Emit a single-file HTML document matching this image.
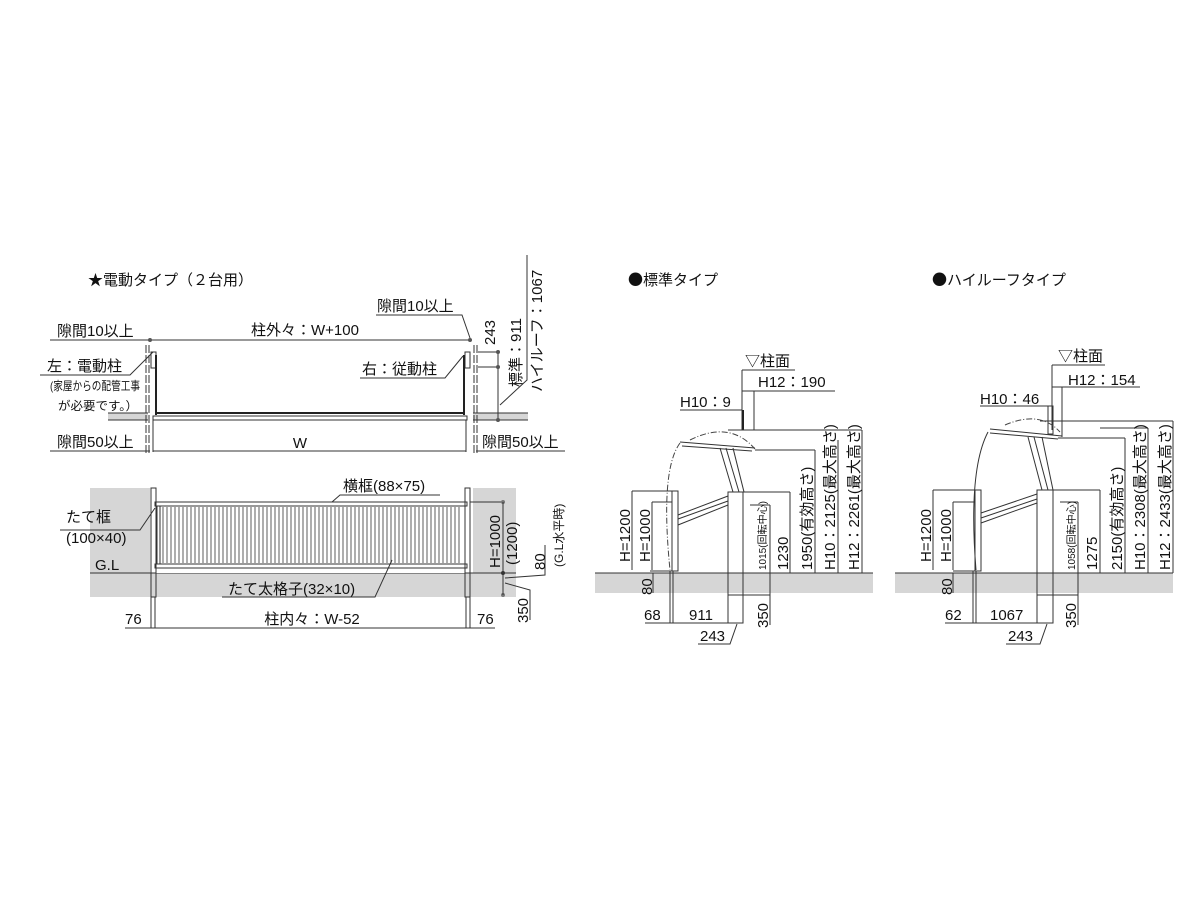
<!DOCTYPE html>
<html><head><meta charset="utf-8"><style>
body{margin:0;background:#fff}
svg{display:block}
text{font-family:"Liberation Sans","Noto Sans CJK JP",sans-serif;fill:#111;font-size:15px}
.s{font-size:12px}
.xs{font-size:10px}
.l{stroke:#333;stroke-width:1;fill:none}
.t{stroke:#222;stroke-width:2;fill:none}
.d{stroke:#444;stroke-width:1;fill:none;stroke-dasharray:6,2,1,2}
.g{fill:#d6d6d6}
.b{font-family:"Noto Sans CJK JP",sans-serif}
</style></head><body>
<svg width="1200" height="900" viewBox="0 0 1200 900">
<rect width="1200" height="900" fill="#fff"/>
<!-- ===== LEFT TOP ===== -->
<text x="88" y="285" font-size="15">★電動タイプ（２台用）</text>
<rect class="g" x="108" y="413" width="40" height="7"/>
<rect class="g" x="473" y="413" width="55" height="7"/>
<line class="l" x1="108" y1="413" x2="148" y2="413"/><line class="l" x1="108" y1="420" x2="148" y2="420"/>
<line class="l" x1="473" y1="413" x2="528" y2="413"/><line class="l" x1="473" y1="420" x2="528" y2="420"/>
<text x="57" y="336">隙間10以上</text><line class="l" x1="50" y1="340" x2="150" y2="340"/>
<line class="l" x1="150" y1="340" x2="472" y2="340"/>
<text x="305" y="335" text-anchor="middle">柱外々：W+100</text>
<text x="377" y="311">隙間10以上</text><polyline class="l" points="376,315 462,315 470,338"/>
<circle cx="150" cy="340" r="2" fill="#555"/><circle cx="470" cy="340" r="2" fill="#555"/>
<line class="l" x1="146" y1="345" x2="146" y2="455" stroke-dasharray="8,2"/><line class="l" x1="149" y1="345" x2="149" y2="455" stroke-dasharray="8,2"/>
<line class="l" x1="474" y1="345" x2="474" y2="455" stroke-dasharray="8,2"/><line class="l" x1="477" y1="345" x2="477" y2="455" stroke-dasharray="8,2"/>
<rect class="l" x="151" y="352" width="5" height="16"/><rect class="l" x="465" y="352" width="5" height="16"/>
<line class="t" x1="156" y1="355" x2="156" y2="415"/><line class="t" x1="464" y1="355" x2="464" y2="415"/>
<line class="t" x1="156" y1="413" x2="464" y2="413"/>
<rect class="l" x="153" y="416" width="314" height="4"/>
<line class="l" x1="153" y1="420" x2="153" y2="452"/><line class="l" x1="466" y1="420" x2="466" y2="452"/>
<line class="l" x1="153" y1="451" x2="466" y2="451"/>
<text x="300" y="448" text-anchor="middle">W</text>
<text x="57" y="447">隙間50以上</text><line class="l" x1="50" y1="451" x2="150" y2="451"/>
<text x="482" y="447">隙間50以上</text><line class="l" x1="476" y1="451" x2="565" y2="451"/>
<text x="47" y="371">左：電動柱</text><polyline class="l" points="40,375 130,375 153,352"/>
<text x="50" y="390" class="s" textLength="90" lengthAdjust="spacingAndGlyphs">(家屋からの配管工事</text>
<text x="58" y="410" class="s" textLength="80" lengthAdjust="spacingAndGlyphs">が必要です。）</text>
<text x="362" y="374">右：従動柱</text><polyline class="l" points="360,378 445,378 463,356"/>
<line class="l" x1="478" y1="352" x2="498" y2="352"/><line class="l" x1="478" y1="367" x2="498" y2="367"/>
<line class="l" x1="498" y1="352" x2="498" y2="420"/>
<circle cx="498" cy="352" r="2" fill="#555"/><circle cx="498" cy="367" r="2" fill="#555"/><circle cx="498" cy="420" r="2" fill="#555"/>
<text transform="translate(495,345) rotate(-90)">243</text>
<polyline class="l" points="500,405 527,380 527,255"/>
<text transform="translate(521,387) rotate(-90)">標準：911</text>
<text transform="translate(542,392) rotate(-90)">ハイルーフ：1067</text>
<!-- ===== LEFT BOTTOM ===== -->
<rect class="g" x="90" y="488" width="60" height="109"/>
<rect class="g" x="473" y="488" width="43" height="109"/>
<rect class="g" x="90" y="573" width="426" height="24"/>
<line class="l" x1="90" y1="573" x2="516" y2="573"/>
<rect x="156" y="500" width="309" height="73" fill="#fff"/>
<rect class="l" x="151" y="488" width="5" height="109"/><rect class="l" x="465" y="488" width="5" height="109"/>
<line class="l" x1="151" y1="597" x2="151" y2="628"/><line class="l" x1="155" y1="597" x2="155" y2="628"/>
<line class="l" x1="466" y1="597" x2="466" y2="628"/><line class="l" x1="470" y1="597" x2="470" y2="628"/>
<rect class="l" x="155" y="502" width="312" height="4"/>
<rect class="l" x="155" y="564" width="312" height="4"/>
<rect class="l" x="157" y="506" width="3" height="58"/>
<g stroke="#777" stroke-width="1.2">
<path d="M163 507V563M167 507V563M171 507V563M175 507V563M179 507V563M183 507V563M187 507V563M191 507V563M195 507V563M199 507V563M203 507V563M207 507V563M211 507V563M215 507V563M219 507V563M223 507V563M227 507V563M231 507V563M235 507V563M239 507V563M243 507V563M247 507V563M251 507V563M255 507V563M259 507V563M263 507V563M267 507V563M271 507V563M275 507V563M279 507V563M283 507V563M287 507V563M291 507V563M295 507V563M299 507V563M303 507V563M307 507V563M311 507V563M315 507V563M319 507V563M323 507V563M327 507V563M331 507V563M335 507V563M339 507V563M343 507V563M347 507V563M351 507V563M355 507V563M359 507V563M363 507V563M367 507V563M371 507V563M375 507V563M379 507V563M383 507V563M387 507V563M391 507V563M395 507V563M399 507V563M403 507V563M407 507V563M411 507V563M415 507V563M419 507V563M423 507V563M427 507V563M431 507V563M435 507V563M439 507V563M443 507V563M447 507V563M451 507V563M455 507V563M459 507V563"/>
</g>
<text x="343" y="491">横框(88×75)</text><polyline class="l" points="440,495 340,495 332,502"/>
<text x="66" y="522">たて框</text><text x="66" y="543">(100×40)</text>
<polyline class="l" points="60,530 140,530 155,508"/>
<text x="95" y="570">G.L</text>
<text x="228" y="594">たて太格子(32×10)</text><polyline class="l" points="222,597 375,597 392,560"/>
<line class="l" x1="470" y1="502" x2="505" y2="502"/><line class="l" x1="470" y1="573" x2="505" y2="573"/>
<circle cx="503" cy="502" r="2" fill="#777"/><circle cx="503" cy="573" r="2" fill="#333"/><circle cx="503" cy="595" r="2" fill="#777"/>
<line class="l" x1="503" y1="502" x2="503" y2="595"/>
<text transform="translate(500,568) rotate(-90)">H=1000</text>
<text transform="translate(517,565) rotate(-90)">(1200)</text>
<polyline class="l" points="505,578 545,575 545,545"/>
<text transform="translate(545,570) rotate(-90)">80</text>
<text transform="translate(563,567) rotate(-90)" class="s">(G.L水平時)</text>
<polyline class="l" points="505,583 530,590 530,620"/>
<text transform="translate(528,623) rotate(-90)">350</text>
<line class="l" x1="125" y1="628" x2="495" y2="628"/>
<text x="125" y="624">76</text>
<text x="312" y="624" text-anchor="middle">柱内々：W-52</text>
<text x="477" y="624">76</text>
<!-- ===== MIDDLE: 標準 ===== -->
<text x="628" y="285" font-size="15"><tspan class="b">●</tspan>標準タイプ</text>
<rect class="g" x="595" y="573" width="278" height="20"/>
<line class="l" x1="595" y1="573" x2="873" y2="573"/>
<text x="745" y="366">▽柱面</text><line class="l" x1="742" y1="370" x2="795" y2="370"/>
<line class="l" x1="742" y1="370" x2="742" y2="430"/>
<text x="758" y="387">H12：190</text><line class="l" x1="742" y1="391" x2="835" y2="391"/>
<line class="l" x1="754" y1="391" x2="754" y2="430"/>
<text x="680" y="407">H10：9</text><line class="l" x1="680" y1="410" x2="742" y2="410"/>
<line class="t" x1="743" y1="410" x2="743" y2="430"/>
<line class="l" x1="728" y1="430" x2="862" y2="430"/>
<line class="l" x1="680" y1="442" x2="755" y2="448"/><line class="l" x1="682" y1="446" x2="752" y2="451"/>
<path class="d" d="M690 440 Q730 420 755 449"/>
<path class="d" d="M680 443 Q660 470 670 570"/>
<line class="l" x1="755" y1="450" x2="815" y2="450"/>
<line class="l" x1="720" y1="448" x2="733" y2="492"/><line class="l" x1="726" y1="448" x2="739" y2="492"/><line class="l" x1="733" y1="448" x2="744" y2="492"/>
<rect class="l" x="728" y="492" width="15" height="131"/>
<line class="l" x1="728" y1="595" x2="743" y2="595"/>
<rect class="l" x="672" y="491" width="6" height="80"/>
<line class="l" x1="678" y1="515" x2="728" y2="496"/><line class="l" x1="678" y1="519" x2="728" y2="501"/><line class="l" x1="678" y1="525" x2="728" y2="505"/>
<line class="l" x1="650" y1="571" x2="678" y2="571"/>
<line class="l" x1="632" y1="491" x2="672" y2="491"/><line class="l" x1="632" y1="491" x2="632" y2="570"/>
<line class="l" x1="652" y1="502" x2="672" y2="502"/><line class="l" x1="652" y1="502" x2="652" y2="570"/>
<text transform="translate(630,562) rotate(-90)">H=1200</text>
<text transform="translate(650,562) rotate(-90)">H=1000</text>
<line class="l" x1="653" y1="573" x2="653" y2="593"/>
<text transform="translate(652,595) rotate(-90)">80</text>
<line class="l" x1="743" y1="492" x2="790" y2="492"/><line class="l" x1="790" y1="492" x2="790" y2="573"/>
<line class="l" x1="750" y1="505" x2="770" y2="505"/><line class="l" x1="770" y1="505" x2="770" y2="573"/>
<line class="l" x1="815" y1="450" x2="815" y2="573"/><line class="l" x1="838" y1="440" x2="838" y2="573"/><line class="l" x1="862" y1="430" x2="862" y2="573"/>
<line class="l" x1="743" y1="595" x2="770" y2="595"/><line class="l" x1="770" y1="573" x2="770" y2="625"/>
<text transform="translate(766,570) rotate(-90)" class="xs">1015(回転中心)</text>
<text transform="translate(788,570) rotate(-90)">1230</text>
<text transform="translate(812,570) rotate(-90)">1950(有効高さ)</text>
<text transform="translate(835,570) rotate(-90)">H10：2125(最大高さ)</text>
<text transform="translate(859,570) rotate(-90)">H12：2261(最大高さ)</text>
<text transform="translate(768,628) rotate(-90)">350</text>
<line class="l" x1="670" y1="571" x2="670" y2="623"/><line class="l" x1="673" y1="571" x2="673" y2="623"/>
<line class="l" x1="645" y1="623" x2="743" y2="623"/>
<text x="644" y="620">68</text><text x="689" y="620">911</text>
<text x="700" y="641">243</text><polyline class="l" points="698,644 730,644 737,624"/>
<!-- ===== RIGHT: ハイルーフ ===== -->
<text x="932" y="285" font-size="15"><tspan class="b">●</tspan>ハイルーフタイプ</text>
<rect class="g" x="895" y="573" width="278" height="20"/>
<line class="l" x1="895" y1="573" x2="1173" y2="573"/>
<text x="1058" y="361">▽柱面</text><line class="l" x1="1052" y1="365" x2="1105" y2="365"/>
<line class="l" x1="1052" y1="365" x2="1052" y2="430"/>
<text x="1068" y="385">H12：154</text><line class="l" x1="1052" y1="387" x2="1140" y2="387"/>
<line class="l" x1="1062" y1="387" x2="1062" y2="437"/>
<text x="980" y="404">H10：46</text><line class="l" x1="980" y1="406" x2="1052" y2="406"/>
<rect class="l" x="1048" y="406" width="5" height="28"/>
<line class="l" x1="1040" y1="421" x2="1173" y2="421"/>
<line class="l" x1="990" y1="429" x2="1062" y2="436"/><line class="l" x1="990" y1="433" x2="1058" y2="439"/>
<path class="d" d="M1005 425 Q1040 410 1060 432"/>
<path class="l" d="M988 432 Q968 470 976 570"/>
<line class="l" x1="1058" y1="438" x2="1125" y2="438"/>
<line class="l" x1="1028" y1="437" x2="1042" y2="490"/><line class="l" x1="1034" y1="437" x2="1048" y2="490"/><line class="l" x1="1042" y1="437" x2="1053" y2="490"/>
<rect class="l" x="1037" y="490" width="16" height="133"/>
<line class="l" x1="1037" y1="595" x2="1053" y2="595"/>
<rect class="l" x="975" y="490" width="6" height="81"/>
<line class="l" x1="981" y1="513" x2="1037" y2="494"/><line class="l" x1="981" y1="518" x2="1037" y2="499"/><line class="l" x1="981" y1="523" x2="1037" y2="503"/>
<line class="l" x1="953" y1="571" x2="981" y2="571"/>
<line class="l" x1="933" y1="490" x2="975" y2="490"/><line class="l" x1="933" y1="490" x2="933" y2="570"/>
<line class="l" x1="953" y1="502" x2="975" y2="502"/><line class="l" x1="953" y1="502" x2="953" y2="570"/>
<text transform="translate(931,562) rotate(-90)">H=1200</text>
<text transform="translate(951,562) rotate(-90)">H=1000</text>
<line class="l" x1="953" y1="573" x2="953" y2="593"/>
<text transform="translate(952,595) rotate(-90)">80</text>
<line class="l" x1="1053" y1="490" x2="1100" y2="490"/><line class="l" x1="1100" y1="490" x2="1100" y2="573"/>
<line class="l" x1="1060" y1="502" x2="1078" y2="502"/><line class="l" x1="1078" y1="502" x2="1078" y2="573"/>
<line class="l" x1="1125" y1="438" x2="1125" y2="573"/><line class="l" x1="1148" y1="428" x2="1148" y2="573"/><line class="l" x1="1173" y1="421" x2="1173" y2="573"/>
<line class="l" x1="1053" y1="595" x2="1078" y2="595"/><line class="l" x1="1078" y1="573" x2="1078" y2="625"/>
<line class="l" x1="1100" y1="428" x2="1148" y2="428"/>
<text transform="translate(1075,570) rotate(-90)" class="xs">1058(回転中心)</text>
<text transform="translate(1097,570) rotate(-90)">1275</text>
<text transform="translate(1122,570) rotate(-90)">2150(有効高さ)</text>
<text transform="translate(1145,570) rotate(-90)">H10：2308(最大高さ)</text>
<text transform="translate(1170,570) rotate(-90)">H12：2433(最大高さ)</text>
<text transform="translate(1076,628) rotate(-90)">350</text>
<line class="l" x1="973" y1="571" x2="973" y2="623"/><line class="l" x1="976" y1="571" x2="976" y2="623"/>
<line class="l" x1="945" y1="623" x2="1053" y2="623"/>
<text x="945" y="620">62</text><text x="990" y="620">1067</text>
<text x="1008" y="641">243</text><polyline class="l" points="1006,644 1040,644 1047,624"/>
</svg>
</body></html>
